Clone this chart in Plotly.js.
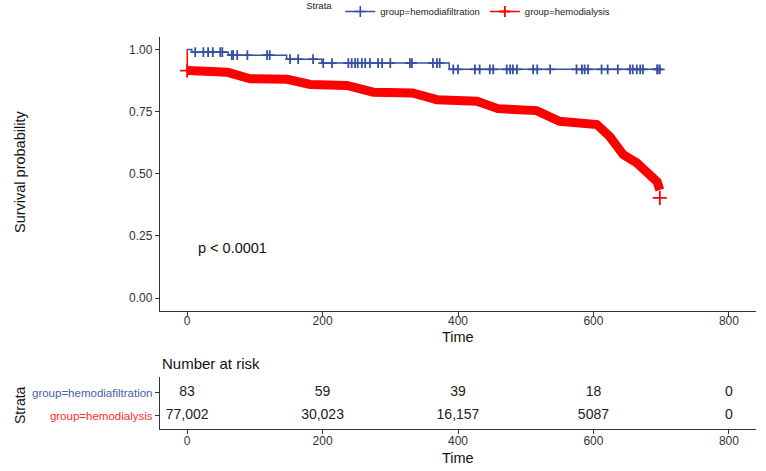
<!DOCTYPE html>
<html>
<head>
<meta charset="utf-8">
<script src="https://cdn.plot.ly/plotly-3.0.1.min.js"></script>
<style>
  html, body { margin: 0; padding: 0; background: #fff; }
  #plot { width: 766px; height: 471px; }
</style>
</head>
<body>
<div id="plot"></div>
<script>
// Kaplan-Meier curves, values
const hdfTime = [0, 7, 61, 147, 199, 387, 698];
const hdfSurv = [1.0, 0.989, 0.977, 0.961, 0.945, 0.92, 0.92];

// censor marks for hemodiafiltration, grouped by level
const hdfCensorTime = [12, 24, 31, 38, 49, 52,
    66, 68, 74, 89, 118, 122,
    152, 164, 186,
    201, 214, 238, 243, 248, 252, 258, 263, 270, 282, 288, 300, 329, 332, 363, 369, 373,
    393, 400, 425, 432, 447, 452, 472, 477, 481, 487, 511, 517, 536, 575, 583, 587, 592,
    612, 621, 636, 654, 658, 664, 669, 673, 694, 695, 698];
const hdfCensorSurv = [0.989, 0.989, 0.989, 0.989, 0.989, 0.989,
    0.977, 0.977, 0.977, 0.977, 0.977, 0.977,
    0.961, 0.961, 0.961,
    0.945, 0.945, 0.945, 0.945, 0.945, 0.945, 0.945, 0.945, 0.945, 0.945, 0.945, 0.945, 0.945, 0.945, 0.945, 0.945, 0.945,
    0.92, 0.92, 0.92, 0.92, 0.92, 0.92, 0.92, 0.92, 0.92, 0.92, 0.92, 0.92, 0.92, 0.92, 0.92, 0.92, 0.92,
    0.92, 0.92, 0.92, 0.92, 0.92, 0.92, 0.92, 0.92, 0.92, 0.92, 0.92];

const hdTime = [0, 0.5, 60, 93, 148, 182, 236, 275, 333, 369, 428, 459, 516, 550, 605, 624, 636, 644, 664, 679, 694, 698];
const hdSurv = [1.0, 0.915, 0.908, 0.882, 0.88, 0.859, 0.855, 0.828, 0.825, 0.798, 0.792, 0.762, 0.754, 0.711, 0.698, 0.65, 0.605, 0.577, 0.544, 0.508, 0.468, 0.435];
const hdCensorTime = [0, 698];
const hdCensorSurv = [0.915, 0.403];

// number at risk table
const riskTimes = [0, 200, 400, 600, 800];
const riskHdf = ['83', '59', '39', '18', '0'];
const riskHd = ['77,002', '30,023', '16,157', '5087', '0'];

const blue = '#3550a3';
const red = '#ff0000';
const font = 'Liberation Sans, Arial, sans-serif';

const traces = [
    { x: hdTime, y: hdSurv, type: 'scatter', mode: 'lines',
      line: { color: red, width: 1.5 }, showlegend: false, hoverinfo: 'skip' },
    // dense censor marks form a thick band
    { x: hdTime.slice(1), y: hdSurv.slice(1), type: 'scatter', mode: 'lines',
      line: { color: red, width: 9 }, showlegend: false, hoverinfo: 'skip' },
    { x: hdCensorTime, y: hdCensorSurv, type: 'scatter', mode: 'markers',
      marker: { symbol: 'cross-thin', size: 10, line: { color: red, width: 1.8 } },
      showlegend: false },
    { x: hdfTime, y: hdfSurv, type: 'scatter', mode: 'lines',
      line: { color: blue, width: 1.5, shape: 'hv' }, showlegend: false },
    { x: hdfCensorTime, y: hdfCensorSurv, type: 'scatter', mode: 'markers',
      marker: { symbol: 'cross-thin', size: 7, line: { color: blue, width: 1.8 } },
      showlegend: false },
    // legend entries
    { x: [null], y: [null], type: 'scatter', mode: 'lines+markers', name: 'group=hemodiafiltration',
      line: { color: blue, width: 1.5 },
      marker: { symbol: 'cross-thin', size: 8, line: { color: blue, width: 1.6 } } },
    { x: [null], y: [null], type: 'scatter', mode: 'lines+markers', name: 'group=hemodialysis',
      line: { color: red, width: 1.5 },
      marker: { symbol: 'cross-thin', size: 8, line: { color: red, width: 1.8 } } },
    // risk table
    { x: riskTimes, y: riskTimes.map(() => 2), text: riskHdf, type: 'scatter', mode: 'text',
      textfont: { size: 14, color: '#222', family: font }, xaxis: 'x2', yaxis: 'y2',
      showlegend: false, hoverinfo: 'skip' },
    { x: riskTimes, y: riskTimes.map(() => 1), text: riskHd, type: 'scatter', mode: 'text',
      textfont: { size: 14, color: '#222', family: font }, xaxis: 'x2', yaxis: 'y2',
      showlegend: false, hoverinfo: 'skip' }
];

const axisStyle = {
    showgrid: false, zeroline: false, showline: true, linecolor: '#333', linewidth: 1.2,
    ticks: 'outside', ticklen: 4, tickcolor: '#333',
    tickfont: { size: 12, color: '#333', family: font }
};

const layout = {
    width: 766, height: 471,
    paper_bgcolor: '#fff', plot_bgcolor: '#fff',
    font: { family: font, color: '#222' },
    margin: { l: 160, r: 10, t: 37, b: 42, autoexpand: false },
    showlegend: true,
    legend: {
        orientation: 'h', x: 0.242, xanchor: 'left', y: 1.102, yanchor: 'top',
        title: { text: 'Strata', font: { size: 9.5, color: '#222' } },
        font: { size: 9.5, color: '#222' }, itemwidth: 30, tracegroupgap: 0
    },
    xaxis: { ...axisStyle, domain: [0, 1], anchor: 'y', range: [-40, 840],
        tickvals: [0, 200, 400, 600, 800], ticklabelstandoff: -5 },
    yaxis: { ...axisStyle, domain: [0.302, 1], anchor: 'x', range: [-0.05, 1.05],
        tickvals: [0, 0.25, 0.5, 0.75, 1], ticktext: ['0.00', '0.25', '0.50', '0.75', '1.00'] },
    xaxis2: { ...axisStyle, domain: [0, 1], anchor: 'y2', range: [-40, 840],
        tickvals: [0, 200, 400, 600, 800], ticklabelstandoff: -4 },
    yaxis2: { ...axisStyle, domain: [0, 0.133], anchor: 'x2', range: [0.435, 2.696],
        tickvals: [1, 2], tickfont: { size: 11.5, family: font },
        ticktext: ['<span style="color:#ff2a2a">group=hemodialysis</span>',
                   '<span style="color:#4a5cb0">group=hemodiafiltration</span>'] },
    annotations: [
        { text: 'p < 0.0001', x: 13, y: 0.2, xref: 'x', yref: 'y', xanchor: 'left', yanchor: 'middle',
          showarrow: false, font: { size: 14.5, color: '#111' } },
        { text: 'Time', x: 458, y: 337, xanchor: 'center', yanchor: 'middle', showarrow: false,
          font: { size: 14.5, color: '#111' } },
        { text: 'Survival probability', textangle: -90, x: 20, y: 172, xanchor: 'center', yanchor: 'middle',
          showarrow: false, font: { size: 14.5, color: '#111' } },
        { text: 'Number at risk', x: 160, y: 363, xanchor: 'left', yanchor: 'middle', showarrow: false,
          font: { size: 15, color: '#111' } },
        { text: 'Strata', textangle: -90, x: 20, y: 405, xanchor: 'center', yanchor: 'middle',
          showarrow: false, font: { size: 14, color: '#111' } },
        { text: 'Time', x: 458, y: 458, xanchor: 'center', yanchor: 'middle', showarrow: false,
          font: { size: 14.5, color: '#111' } }
    ]
};

// free-standing texts are placed by pixel; convert to paper fractions
const plotH = layout.height - layout.margin.t - layout.margin.b;
const plotW = layout.width - layout.margin.l - layout.margin.r;
layout.annotations.forEach((a, i) => {
    if (i === 0) return;
    a.xref = 'paper'; a.yref = 'paper';
    a.y = (layout.height - layout.margin.b - a.y) / plotH;
    a.x = (a.x - layout.margin.l) / plotW;
});

Plotly.newPlot('plot', traces, layout, { displayModeBar: false, staticPlot: true });
</script>
</body>
</html>
